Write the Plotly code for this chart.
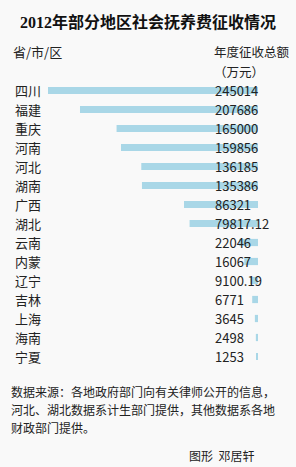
import plotly.graph_objects as go

regions = ["四川", "福建", "重庆", "河南", "河北", "湖南", "广西", "湖北",
           "云南", "内蒙", "辽宁", "吉林", "上海", "海南", "宁夏"]
values = [245014, 207686, 165000, 159856, 136185, 135386, 86321, 79817.12,
          22046, 16067, 9100.19, 6771, 3645, 2498, 1253]

title = "2012年部分地区社会抚养费征收情况"
left_header = "省/市/区"
right_header = ["年度征收总额", "（万元）"]
footer = ["数据来源：各地政府部门向有关律师公开的信息，",
          "河北、湖北数据系计生部门提供，其他数据系各地",
          "财政部门提供。"]
credit = "图形  邓居轩"

W, H = 296, 467
L, R, T, B = 48, 38, 79, 99
PW, PH = W - L - R, H - T - B

def px(x):
    return (x - L) / PW

def py(y):
    return (H - B - y) / PH

FONT = "Noto Sans CJK SC, sans-serif"
TXT = "#222222"

fig = go.Figure(go.Bar(
    y=regions, x=values, orientation="h",
    marker=dict(color="#a9d7e7", line=dict(width=0)),
    hoverinfo="skip",
))

ann = []
for r, v in zip(regions, values):
    ann.append(dict(x=px(13), y=r, xref="paper", yref="y", text=r, showarrow=False,
                    xanchor="left", yanchor="middle", font=dict(size=13, color=TXT, family=FONT)))
    ann.append(dict(x=px(213), y=r, xref="paper", yref="y", text=str(v), showarrow=False,
                    xanchor="left", yanchor="middle", font=dict(size=13, color=TXT, family=FONT)))

ann.append(dict(x=px(148), y=py(22), xref="paper", yref="paper", text="<b>" + title + "</b>",
                showarrow=False, xanchor="center", yanchor="middle",
                font=dict(size=16, color="#111111", family="Liberation Serif, Noto Sans CJK SC, serif")))
ann.append(dict(x=px(11), y=py(52), xref="paper", yref="paper", text=left_header,
                showarrow=False, xanchor="left", yanchor="middle", font=dict(size=13, color=TXT, family=FONT)))
for i, t in enumerate(right_header):
    ann.append(dict(x=px(212), y=py(52 + 19 * i), xref="paper", yref="paper", text=t,
                    showarrow=False, xanchor="left", yanchor="middle", font=dict(size=12.5, color=TXT, family=FONT)))
for i, t in enumerate(footer):
    ann.append(dict(x=px(9), y=py(391 + 18 * i), xref="paper", yref="paper", text=t,
                    showarrow=False, xanchor="left", yanchor="middle", font=dict(size=12, color=TXT, family=FONT)))
ann.append(dict(x=px(256), y=py(455), xref="paper", yref="paper", text=credit,
                showarrow=False, xanchor="right", yanchor="middle", font=dict(size=12, color=TXT, family=FONT)))

fig.update_layout(
    width=W, height=H,
    margin=dict(l=L, r=R, t=T, b=B),
    paper_bgcolor="#f9f9f9", plot_bgcolor="rgba(0,0,0,0)",
    bargap=0.62, showlegend=False,
    xaxis=dict(range=[max(values), 0], visible=False, fixedrange=True),
    yaxis=dict(autorange="reversed", visible=False, fixedrange=True),
    annotations=ann,
)

fig.write_html("out.html", config={"displayModeBar": False})
